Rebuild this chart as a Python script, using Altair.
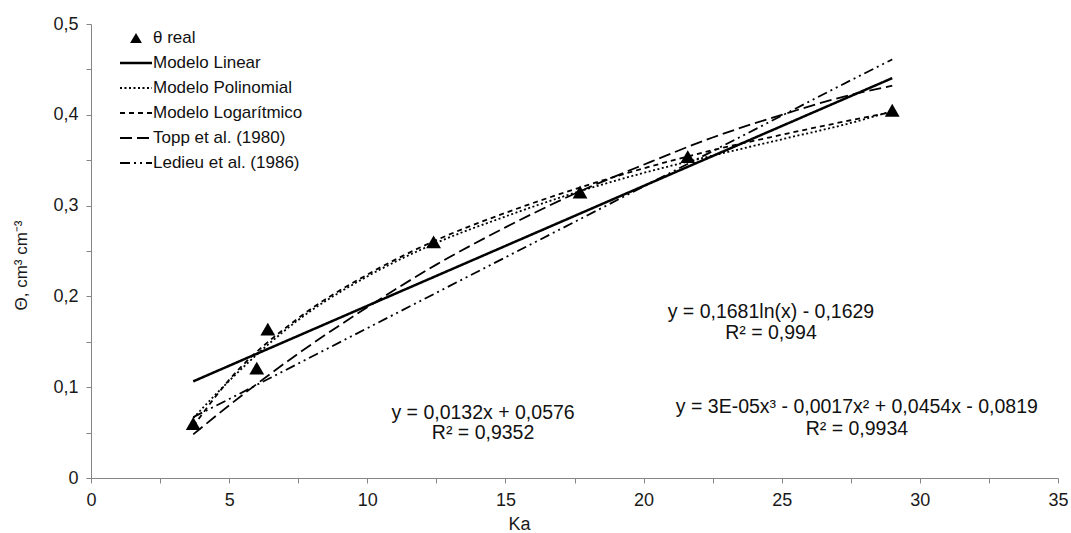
import altair as alt
import pandas as pd

# Measured water content vs. apparent permittivity
ka_obs = [3.7, 6.0, 6.4, 12.4, 17.7, 21.6, 29.0]
theta_obs = [0.060, 0.121, 0.164, 0.260, 0.315, 0.354, 0.405]

# Model curves sampled along Ka
ka_grid = [3.7, 5, 7.5, 10, 12.5, 15, 17.5, 20, 22.5, 25, 27.5, 29]
lin_vals = [0.1064, 0.1236, 0.1566, 0.1896, 0.2226, 0.2556, 0.2886, 0.3216, 0.3546, 0.3876, 0.4206, 0.4404]
poly_vals = [0.066, 0.107, 0.174, 0.222, 0.259, 0.288, 0.314, 0.336, 0.355, 0.373, 0.391, 0.404]
log_vals = [0.057, 0.108, 0.176, 0.224, 0.262, 0.292, 0.318, 0.341, 0.361, 0.378, 0.394, 0.403]
topp_vals = [0.048, 0.080, 0.137, 0.188, 0.235, 0.276, 0.313, 0.345, 0.375, 0.400, 0.422, 0.432]
ledieu_vals = [0.067, 0.087, 0.126, 0.165, 0.204, 0.243, 0.282, 0.321, 0.360, 0.399, 0.438, 0.461]

series_order = [
    "θ real",
    "Modelo Linear",
    "Modelo Polinomial",
    "Modelo Logarítmico",
    "Topp et al. (1980)",
    "Ledieu et al. (1986)",
]
dash_patterns = [[1, 0], [1, 0], [2, 2.5], [5, 4], [12, 5], [10, 4, 2, 4, 2, 4]]

# Trend-line equations and their positions (Ka, theta)
eq_text = [
    "y = 0,0132x + 0,0576", "R² = 0,9352",
    "y = 0,1681ln(x) - 0,1629", "R² = 0,994",
    "y = 3E-05x³ - 0,0017x² + 0,0454x - 0,0819", "R² = 0,9934",
]
eq_ka = [14.19, 14.19, 24.61, 24.61, 27.72, 27.72]
eq_theta = [0.0717, 0.0496, 0.183, 0.160, 0.0783, 0.054]

# Key layout inside the plot area (pixels)
KEY_TOP, KEY_STEP = 14, 25
KEY_X0, KEY_X1, KEY_TEXT_X = 29, 61, 62

rows = []
for name, vals in zip(series_order[1:], [lin_vals, poly_vals, log_vals, topp_vals, ledieu_vals]):
    for k, t in zip(ka_grid, vals):
        rows.append({"Ka": k, "theta": t, "serie": name})
curves = pd.DataFrame(rows)
obs = pd.DataFrame({"Ka": ka_obs, "theta": theta_obs, "serie": series_order[0]})
ann = pd.DataFrame({"Ka": eq_ka, "theta": eq_theta, "txt": eq_text})
key = pd.DataFrame({
    "serie": series_order,
    "ky": [KEY_TOP + KEY_STEP * i for i in range(len(series_order))],
})

FONT = "Liberation Sans"

x_enc = alt.X(
    "Ka:Q",
    scale=alt.Scale(domain=[0, 35], nice=False, zero=True),
    axis=alt.Axis(
        title="Ka",
        values=[i * 2.5 for i in range(15)],
        labelExpr="datum.value % 5 == 0 ? datum.label : ''",
        titleX=428,
        titleY=51,
        titleBaseline="alphabetic",
    ),
)
y_enc = alt.Y(
    "theta:Q",
    scale=alt.Scale(domain=[0, 0.5], nice=False),
    axis=alt.Axis(
        title="Θ, cm³ cm⁻³",
        values=[i * 0.05 for i in range(11)],
        labelExpr="round(datum.value * 100) % 10 == 0 ? (datum.value == 0 ? '0' : replace(format(datum.value, '.1f'), '.', ',')) : ''",
        titleX=-70,
        titleY=241,
        titleAngle=-90,
        titleAlign="center",
        titleBaseline="middle",
        titleFontSize=17,
    ),
)

dash_enc = alt.StrokeDash(
    "serie:N", scale=alt.Scale(domain=series_order, range=dash_patterns), legend=None
)
width_enc = alt.condition("datum.serie == 'Modelo Linear'", alt.value(2.5), alt.value(1.8))

lines = alt.Chart(curves).mark_line(color="black", interpolate="monotone").encode(
    x=x_enc, y=y_enc, detail="serie:N", strokeDash=dash_enc, strokeWidth=width_enc
)

points = alt.Chart(obs).mark_point(
    shape="triangle-up", size=220, filled=True, color="black", opacity=1
).encode(x=x_enc, y=y_enc)

texts = alt.Chart(ann).mark_text(
    font=FONT, fontSize=19.5, align="center", baseline="middle", color="#111111"
).encode(x=x_enc, y=y_enc, text="txt:N")

# Key: line samples, the triangle sample and the labels
key_lines = alt.Chart(key).transform_filter(
    alt.datum.serie != series_order[0]
).mark_rule(color="black").encode(
    x=alt.value(KEY_X0),
    x2=alt.value(KEY_X1),
    y=alt.Y("ky:Q", scale=None),
    strokeDash=dash_enc,
    strokeWidth=width_enc,
)
key_point = alt.Chart(key).transform_filter(
    alt.datum.serie == series_order[0]
).mark_point(shape="triangle-up", size=140, filled=True, color="black", opacity=1).encode(
    x=alt.value((KEY_X0 + KEY_X1) / 2),
    y=alt.Y("ky:Q", scale=None),
)
key_text = alt.Chart(key).mark_text(
    font=FONT, fontSize=17, align="left", baseline="middle", color="#111111"
).encode(
    x=alt.value(KEY_TEXT_X),
    y=alt.Y("ky:Q", scale=None),
    text="serie:N",
)

chart = (
    alt.layer(lines, points, texts, key_lines, key_point, key_text)
    .properties(
        width=967,
        height=454,
        padding={"left": 91, "top": 24, "right": 13, "bottom": 55},
        autosize=alt.AutoSizeParams(type="none"),
        background="white",
    )
    .configure_view(stroke=None)
    .configure_axis(
        grid=False,
        domainColor="#858585",
        tickColor="#858585",
        tickSize=5,
        labelFont=FONT,
        labelFontSize=18,
        labelColor="#1a1a1a",
        labelPadding=8,
        labelOverlap=False,
        labelFlush=False,
        titleFont=FONT,
        titleFontSize=18,
        titleFontWeight="normal",
        titleColor="#1a1a1a",
    )
)

chart.save("out.html", embed_options={"renderer": "svg", "actions": False})
